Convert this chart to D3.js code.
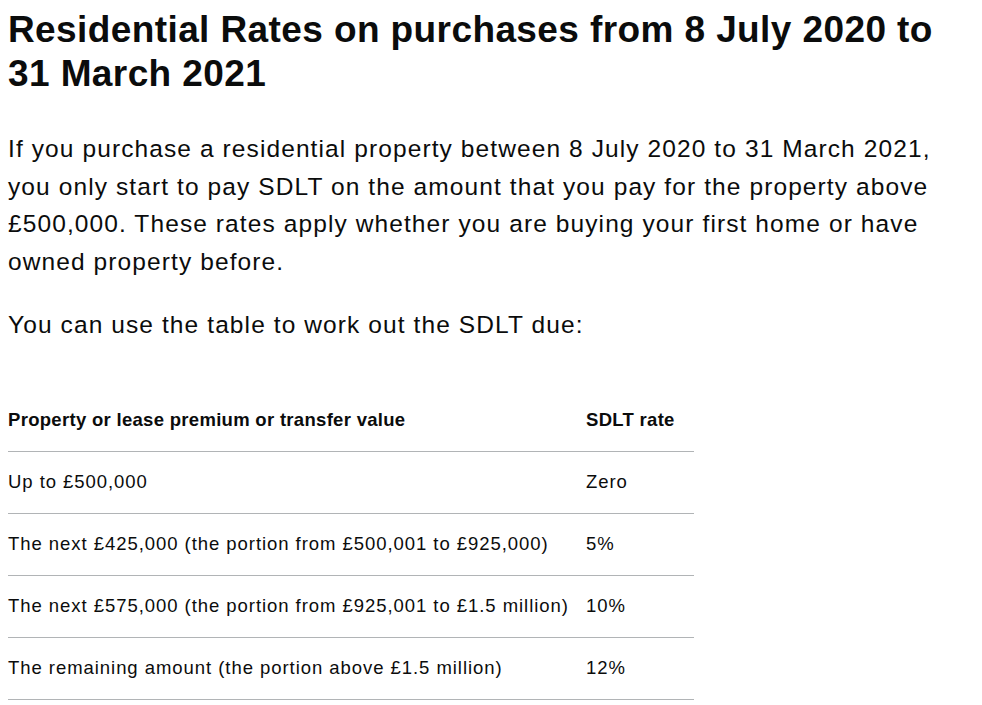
<!DOCTYPE html>
<html><head><meta charset="utf-8">
<script src="https://cdn.jsdelivr.net/npm/d3@7"></script>
<style>
body{margin:0;background:#fff;color:#0b0c0c;font-family:"Liberation Sans",Arial,sans-serif;}
#c{position:absolute;left:8px;top:0;width:970px;}
h1{font-size:37px;font-weight:700;line-height:44px;margin:8px 0 0 0;letter-spacing:0.4px}
p{font-size:24.5px;line-height:37.5px;margin:0;letter-spacing:1.1px;white-space:nowrap}
table{border-collapse:collapse;width:686px;margin-top:0;}
td,th{font-size:18.5px;text-align:left;padding:0;height:61px;border-bottom:1px solid #b1b4b6;vertical-align:middle;letter-spacing:0.95px;white-space:nowrap}
th{font-weight:700;letter-spacing:0.3px}
</style></head><body><div id="c"></div>
<script>
const title=["Residential Rates on purchases from 8 July 2020 to","31 March 2021"];
const paraLines=["If you purchase a residential property between 8 July 2020 to 31 March 2021,","you only start to pay SDLT on the amount that you pay for the property above","£500,000. These rates apply whether you are buying your first home or have","owned property before."];
const para2="You can use the table to work out the SDLT due:";
const headers=["Property or lease premium or transfer value","SDLT rate"];
const bands=["Up to £500,000","The next £425,000 (the portion from £500,001 to £925,000)","The next £575,000 (the portion from £925,001 to £1.5 million)","The remaining amount (the portion above £1.5 million)"];
const rates=["Zero","5%","10%","12%"];
const c=d3.select("#c");
const h=c.append("h1");
title.forEach((l,i)=>{if(i)h.append("br");h.append("span").text(l);});
const p=c.append("p").style("margin-top","34px");
paraLines.forEach((l,i)=>{if(i)p.append("br");p.append("span").text(l);});
c.append("p").style("margin-top","26px").text(para2);
const t=c.append("table").style("margin-top","46px");
t.append("tr").selectAll("th").data(headers).join("th").text(d=>d).style("width",(d,i)=>i?"108px":"578px");
t.selectAll("tr.r").data(bands.map((b,i)=>[b,rates[i]])).join("tr").attr("class","r")
 .selectAll("td").data(d=>d).join("td").text(d=>d);
</script></body></html>
